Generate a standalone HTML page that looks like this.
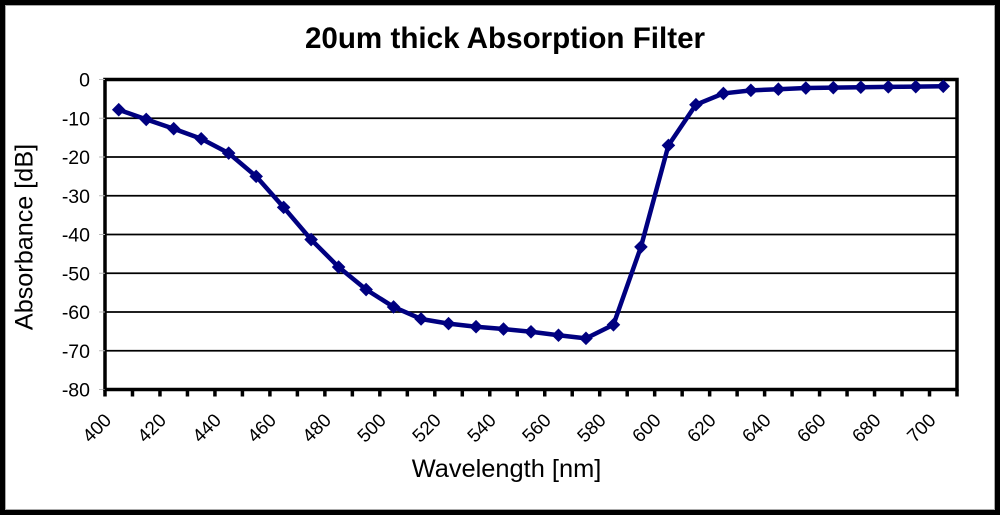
<!DOCTYPE html>
<html lang="en">
<head>
<meta charset="utf-8">
<title>20um thick Absorption Filter</title>
<style>
html,body{margin:0;padding:0;background:#fff;}
svg{display:block;font-family:"Liberation Sans",Arial,sans-serif;}
</style>
</head>
<body>
<svg id="chart" width="1000" height="515" viewBox="0 0 1000 515" xmlns="http://www.w3.org/2000/svg">
  <rect x="0" y="0" width="1000" height="515" fill="#fff"/>
  <rect x="5.500" y="5.500" width="989" height="504" fill="none" stroke="#aaa" stroke-width="1"/>
  <rect x="2.500" y="2.500" width="995" height="510" fill="none" stroke="#000" stroke-width="5"/>
  <text x="505" y="48" font-size="29.600" font-weight="bold" text-anchor="middle" fill="#000">20um thick Absorption Filter</text>
  <text x="506.500" y="477" font-size="25.400" text-anchor="middle" fill="#000">Wavelength [nm]</text>
  <text x="0" y="0" transform="translate(32.500,237) rotate(-90)" font-size="25.200" text-anchor="middle" fill="#000">Absorbance [dB]</text>
  <g id="grid"></g>
  <g id="axes"></g>
  <g id="yticks"></g>
  <g id="xticks"></g>
  <g id="series"></g>
</svg>
<script>
const wavelengths = [400,410,420,430,440,450,460,470,480,490,500,510,520,530,540,550,560,570,580,590,600,610,620,630,640,650,660,670,680,690,700];
const absorbance = [-7.8,-10.3,-12.7,-15.3,-19,-25,-33,-41.3,-48.4,-54.2,-58.7,-61.8,-63,-63.8,-64.4,-65.1,-66,-66.8,-63.3,-43.2,-17,-6.5,-3.6,-2.8,-2.5,-2.2,-2.1,-2,-1.9,-1.85,-1.75];
const yTickValues = [0,-10,-20,-30,-40,-50,-60,-70,-80];
const xTickLabels = [400,420,440,460,480,500,520,540,560,580,600,620,640,660,680,700];

const NS = 'http://www.w3.org/2000/svg';
const plotLeft = 105, plotRight = 957, plotTop = 79.5, plotBottom = 389.5;
const bandWidth = (plotRight - plotLeft) / wavelengths.length;

function xBand(wavelength) {
  return plotLeft + bandWidth * wavelengths.indexOf(wavelength);
}
function xCenter(wavelength) {
  return xBand(wavelength) + bandWidth / 2;
}
function yScale(value) {
  return plotTop + (0 - value) / 80 * (plotBottom - plotTop);
}
function make(tag, attrs, parent) {
  const el = document.createElementNS(NS, tag);
  for (const k in attrs) el.setAttribute(k, attrs[k]);
  parent.appendChild(el);
  return el;
}

const gridG = document.getElementById('grid');
const axesG = document.getElementById('axes');
const yG = document.getElementById('yticks');
const xG = document.getElementById('xticks');
const seriesG = document.getElementById('series');

yTickValues.forEach(function (v) {
  const y = yScale(v);
  if (v !== 0 && v !== -80) {
    const g = make('line', {x1: plotLeft, x2: plotRight, y1: y, y2: y, stroke: '#000', 'stroke-width': 1.7}, gridG);
    
    
  }
  const t = make('line', {x1: plotLeft - 6, x2: plotLeft, y1: y, y2: y, stroke: '#bbb', 'stroke-width': 1}, yG);
  
  
  const lab = make('text', {x: 90, y: y + 7, 'font-size': 19.500, 'text-anchor': 'end', fill: '#000'}, yG);
  
  
  lab.textContent = String(v);
});

const plotBox = make('rect', {x: plotLeft, y: plotTop, width: plotRight - plotLeft, height: plotBottom - plotTop, fill: 'none', stroke: '#000', 'stroke-width': 3.500}, axesG);



wavelengths.forEach(function (w) {
  const x = xBand(w);
  const t = make('line', {x1: x, x2: x, y1: plotBottom, y2: plotBottom + 7, stroke: '#000', 'stroke-width': 3.500}, xG);
  
  
});
const lastTick = make('line', {x1: plotRight, x2: plotRight, y1: plotBottom, y2: plotBottom + 7, stroke: '#000', 'stroke-width': 3.500}, xG);



xTickLabels.forEach(function (w) {
  const cx = xCenter(w) - 6.4;
  const cy = 421.3;
  const lab = make('text', {x: 0, y: 0, 'font-size': 18.800, 'text-anchor': 'end', fill: '#000', transform: 'translate(' + cx + ',' + cy + ') rotate(-45)'}, xG);
  
  
  lab.textContent = String(w);
});

const pts = wavelengths.map(function (w, i) {
  return xCenter(w).toFixed(2) + ',' + yScale(absorbance[i]).toFixed(2);
}).join(' ');
const line = make('polyline', {points: pts, fill: 'none', stroke: '#000080', 'stroke-width': 4.500, 'stroke-linejoin': 'round'}, seriesG);



wavelengths.forEach(function (w, i) {
  const x = xCenter(w), y = yScale(absorbance[i]), r = 6.8;
  const d = make('polygon', {points: [x, y - r, x + r, y, x, y + r, x - r, y].join(' '), fill: '#000080'}, seriesG);
  
  
});
</script>
</body>
</html>
